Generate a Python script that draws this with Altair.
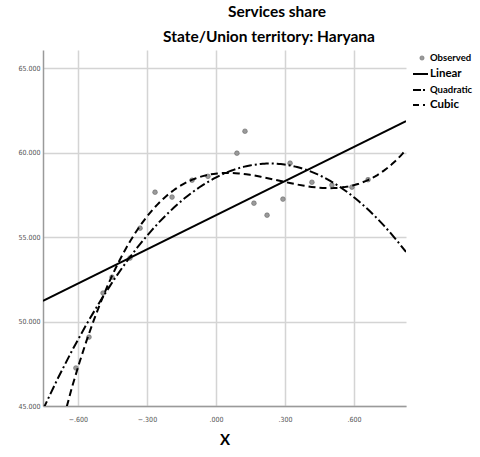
import altair as alt
import pandas as pd

# Observed services share (%) against the centred X variable
obs_x = [-0.609, -0.552, -0.491, -0.452, -0.374, -0.330, -0.265, -0.191, -0.104, -0.035,
         0.091, 0.126, 0.165, 0.222, 0.291, 0.322, 0.417, 0.504, 0.591, 0.661]
obs_y = [47.25, 49.08, 51.69, 52.63, 53.76, 55.53, 57.66, 57.37, 58.37, 58.60,
         59.97, 61.27, 57.01, 56.30, 57.25, 59.38, 58.25, 58.08, 57.96, 58.40]

x_ticks = [-0.6, -0.3, 0.0, 0.3, 0.6]
y_ticks = [45, 50, 55, 60, 65]
x_range = [-0.752, 0.826]
y_range = [45, 66.08]

title_main = "Services share"
title_sub = "State/Union territory: Haryana"
legend_labels = ["Observed", "Linear", "Quadratic", "Cubic"]

df = pd.DataFrame({"x": obs_x, "y": obs_y})

W, H = 363, 356
tick_font = "Liberation Sans Narrow, DejaVu Sans Condensed, sans-serif"
grid = "#d4d4d4"

x_enc = alt.X(
    "x:Q",
    scale=alt.Scale(domain=x_range, nice=False, zero=False),
    axis=alt.Axis(
        values=x_ticks, title="X", grid=True, gridColor=grid, gridWidth=1.5,
        ticks=False, domainColor="#9a9a9a", domainWidth=1.5,
        labelFont=tick_font, labelFontSize=7, labelColor="#555555", labelPadding=9,
        labelExpr="replace(format(datum.value, '.3f'), '0.', '.')",
        titleFont="Lato", titleFontSize=15, titleFontWeight="bold", titlePadding=10,
        titleColor="black",
    ),
)
y_enc = alt.Y(
    "y:Q",
    scale=alt.Scale(domain=y_range, nice=False, zero=False),
    axis=alt.Axis(
        values=y_ticks, title=None, grid=True, gridColor=grid, gridWidth=1.5,
        ticks=False, domainColor="#9a9a9a", domainWidth=1.5,
        labelFont=tick_font, labelFontSize=7, labelColor="#555555", labelPadding=3,
        format=".3f",
    ),
)

base = alt.Chart(df)

points = base.mark_circle(size=22, color="#9a9a9a", stroke="#6a6a6a",
                          strokeWidth=0.6, opacity=1).encode(x=x_enc, y=y_enc)

linear = base.transform_regression(
    "x", "y", method="linear", extent=x_range
).mark_line(color="black", strokeWidth=2, clip=True).encode(x="x:Q", y="y:Q")

quadratic = base.transform_regression(
    "x", "y", method="poly", order=2, extent=x_range
).mark_line(color="black", strokeWidth=2, strokeDash=[9, 3, 2, 3], clip=True).encode(
    x="x:Q", y="y:Q")

cubic = base.transform_regression(
    "x", "y", method="poly", order=3, extent=x_range
).mark_line(color="black", strokeWidth=2, strokeDash=[7, 4], clip=True).encode(
    x="x:Q", y="y:Q")

# Titles above the plot
one = pd.DataFrame({"k": [0]})
t1 = alt.Chart(one).mark_text(
    text=title_main, font="Lato", fontSize=15.5, fontWeight="bold", align="center",
    baseline="middle", color="black"
).encode(x=alt.value(234), y=alt.value(-38))
t2 = alt.Chart(one).mark_text(
    text=title_sub, font="Lato", fontSize=15.5, fontWeight="bold", align="center",
    baseline="middle", color="black"
).encode(x=alt.value(226), y=alt.value(-13))

# Hand-drawn legend to the right of the plot
lx0, lx1, ltx = 370, 385, 387
ly = [8, 24, 40, 55]
leg = []
leg.append(alt.Chart(one).mark_circle(size=18, color="#9a9a9a", stroke="#6a6a6a",
                                      strokeWidth=0.6, opacity=1)
           .encode(x=alt.value(379), y=alt.value(ly[0])))
leg.append(alt.Chart(one).mark_rule(color="black", strokeWidth=2)
           .encode(x=alt.value(lx0), x2=alt.value(lx1), y=alt.value(ly[1])))
leg.append(alt.Chart(one).mark_rule(color="black", strokeWidth=2, strokeDash=[8, 2, 2, 3])
           .encode(x=alt.value(lx0), x2=alt.value(lx1), y=alt.value(ly[2])))
leg.append(alt.Chart(one).mark_rule(color="black", strokeWidth=2, strokeDash=[6, 4, 2, 4])
           .encode(x=alt.value(lx0), x2=alt.value(lx1), y=alt.value(ly[3])))
for i, lab in enumerate(legend_labels):
    narrow = lab in ("Observed", "Quadratic")
    leg.append(alt.Chart(one).mark_text(
        text=lab, align="left", baseline="middle", color="black",
        font="Lato", fontSize=9.5 if narrow else 11.5,
        fontWeight="bold",
    ).encode(x=alt.value(ltx), y=alt.value(ly[i])))

chart = alt.layer(points, linear, quadratic, cubic, t1, t2, *leg).properties(
    width=W, height=H,
    autosize=alt.AutoSizeParams(type="none"),
    padding={"left": 43, "top": 50, "right": 74, "bottom": 51},
    background="white",
).configure_view(stroke=None)

chart.save("out.html", embed_options={"renderer": "svg", "actions": False})
